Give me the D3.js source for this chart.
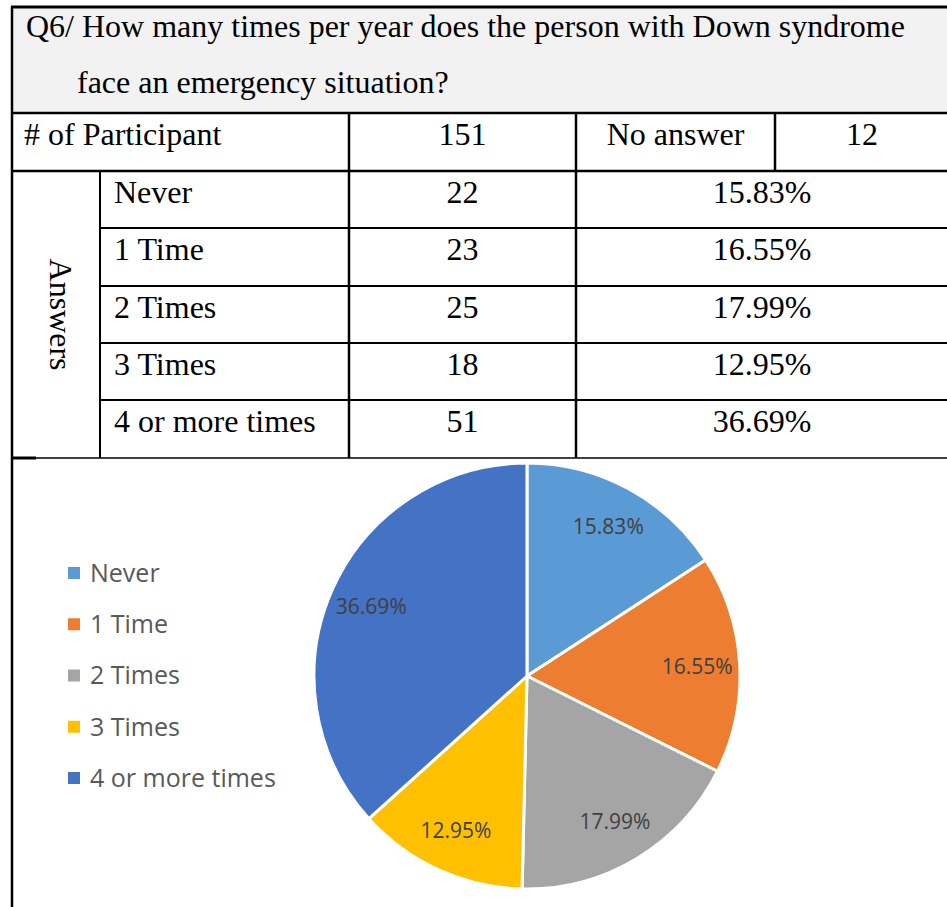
<!DOCTYPE html>
<html>
<head>
<meta charset="utf-8">
<script src="https://cdn.jsdelivr.net/npm/d3@7/dist/d3.min.js"></script>
<style>
  html, body { margin: 0; padding: 0; background: #fff; }
  svg { display: block; }
</style>
</head>
<body>
<svg id="chart" width="947" height="907"></svg>
<script>
// Survey question and summary counts
const questionLines = ["Q6/ How many times per year does the person with Down syndrome", "face an emergency situation?"];
const participants = 151;
const noAnswer = 12;

// Answer categories, counts and shares
const categories = ["Never", "1 Time", "2 Times", "3 Times", "4 or more times"];
const counts = [22, 23, 25, 18, 51];
const percents = [15.83, 16.55, 17.99, 12.95, 36.69];
const colors = ["#5B9BD5", "#ED7D31", "#A5A5A5", "#FFC000", "#4472C4"];

const svg = d3.select("#chart");
const serif = "'Liberation Serif', 'Times New Roman', serif";
const sans = "'Open Sans', 'Noto Sans', sans-serif";

// ---- Table ----
const xL = 12, xR = 960;
const colX = [12, 100, 349, 576, 775];
const rowY = [7, 113, 171, 228, 286, 343, 400, 458];

// title band
svg.append("rect").attr("x", xL).attr("y", rowY[0]).attr("width", xR - xL).attr("height", rowY[1] - rowY[0])
  .attr("fill", "#f2f2f2");

const lines = svg.append("g").attr("stroke", "#000").attr("fill", "none");
function hline(x1, x2, y, w) { lines.append("line").attr("x1", x1).attr("x2", x2).attr("y1", y).attr("y2", y).attr("stroke-width", w); }
function vline(x, y1, y2, w) { lines.append("line").attr("x1", x).attr("x2", x).attr("y1", y1).attr("y2", y2).attr("stroke-width", w); }

hline(xL - 1, xR, rowY[0], 3);
hline(xL, xR, rowY[1], 2.5);
hline(xL, xR, rowY[2], 2.5);
for (let i = 3; i < 7; i++) hline(colX[1], xR, rowY[i], 2);
hline(xL, 36, rowY[7], 3);
hline(36, xR, rowY[7], 1.5);
vline(xL, rowY[0], 907, 2.5);
vline(colX[2], rowY[1], rowY[7], 2.5);
vline(colX[3], rowY[1], rowY[7], 2.5);
vline(colX[4], rowY[1], rowY[2], 2.5);
vline(colX[1], rowY[2], rowY[7], 2);

const txt = svg.append("g").attr("font-family", serif).attr("font-size", 32).attr("fill", "#000");
txt.append("text").attr("x", 26).attr("y", 37).text(questionLines[0]);
txt.append("text").attr("x", 77).attr("y", 93).text(questionLines[1]);

txt.append("text").attr("x", 24).attr("y", 145).text("# of Participant");
txt.append("text").attr("x", (colX[2] + colX[3]) / 2).attr("y", 145).attr("text-anchor", "middle").text(participants);
txt.append("text").attr("x", (colX[3] + colX[4]) / 2).attr("y", 145).attr("text-anchor", "middle").text("No answer");
txt.append("text").attr("x", 862).attr("y", 145).attr("text-anchor", "middle").text(noAnswer);

txt.append("text").attr("transform", `translate(50, ${(rowY[2] + rowY[7]) / 2}) rotate(90)`)
  .attr("text-anchor", "middle").text("Answers");

categories.forEach((c, i) => {
  const y = rowY[i + 2] + 32;
  txt.append("text").attr("x", 114).attr("y", y).text(c);
  txt.append("text").attr("x", (colX[2] + colX[3]) / 2).attr("y", y).attr("text-anchor", "middle").text(counts[i]);
  txt.append("text").attr("x", 762).attr("y", y).attr("text-anchor", "middle").text(percents[i].toFixed(2) + "%");
});

// ---- Pie ----
const cx = 527, cy = 676, r = 213;
const pieData = d3.pie().sort(null).value(d => d.value)(
  categories.map((c, i) => ({ name: c, value: percents[i], color: colors[i] })));
const arc = d3.arc().innerRadius(0).outerRadius(r);
const labelArc = d3.arc().innerRadius(r * 0.8).outerRadius(r * 0.8);

const pg = svg.append("g").attr("transform", `translate(${cx},${cy})`);
pg.selectAll("path").data(pieData).join("path")
  .attr("d", arc).attr("fill", d => d.data.color)
  .attr("stroke", "#fff").attr("stroke-width", 3).attr("stroke-linejoin", "round");
pg.selectAll("text").data(pieData).join("text")
  .attr("transform", d => `translate(${labelArc.centroid(d)})`)
  .attr("text-anchor", "middle").attr("dy", "0.35em")
  .attr("font-family", sans).attr("font-size", 21).attr("fill", "#404040")
  .text(d => d.data.value.toFixed(2) + "%");

// ---- Legend ----
const legend = svg.append("g").attr("font-family", sans).attr("font-size", 25).attr("fill", "#595959");
const ly = d3.scalePoint().domain(categories).range([573, 778]);
categories.forEach((c, i) => {
  legend.append("rect").attr("x", 68).attr("y", ly(c) - 6).attr("width", 12).attr("height", 12).attr("fill", colors[i]);
  legend.append("text").attr("x", 90).attr("y", ly(c)).attr("dy", "0.35em").text(c);
});
</script>
</body>
</html>
